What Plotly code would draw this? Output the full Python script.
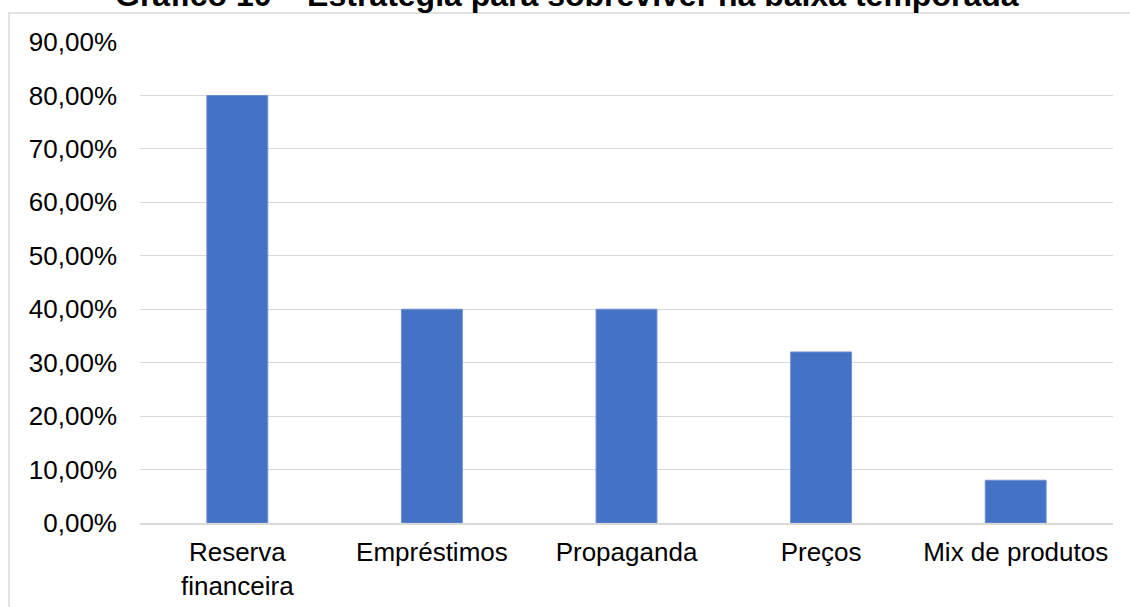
import plotly.graph_objects as go

categories = ["Reserva<br>financeira", "Empréstimos", "Propaganda", "Preços", "Mix de produtos"]
values = [0.80, 0.40, 0.40, 0.32, 0.08]
tick_vals = [0, 0.1, 0.2, 0.3, 0.4, 0.5, 0.6, 0.7, 0.8, 0.9]
tick_text = ["0,00%", "10,00%", "20,00%", "30,00%", "40,00%", "50,00%", "60,00%", "70,00%", "80,00%", "90,00%"]
title_text = "Gráfico 10 – Estratégia para sobreviver na baixa temporada"

FONT = "Liberation Sans, Arial, sans-serif"

fig = go.Figure(
    go.Bar(
        x=categories,
        y=values,
        marker=dict(color="#4472C4", line=dict(color="#6f8fd2", width=1)),
        width=0.313,
    )
)

fig.update_layout(
    width=1130,
    height=607,
    margin=dict(l=140, r=17, t=42, b=84),
    paper_bgcolor="white",
    plot_bgcolor="white",
    showlegend=False,
    font=dict(family=FONT, size=26, color="#000000"),
)

fig.update_yaxes(
    range=[0, 0.9],
    tickvals=tick_vals,
    ticktext=tick_text,
    showgrid=True,
    gridcolor="#d9d9d9",
    gridwidth=1.3,
    zeroline=False,
    showline=False,
    ticklabelstandoff=22,
    automargin=False,
    tickfont=dict(family=FONT, size=26, color="#000000"),
    fixedrange=True,
)
fig.update_xaxes(
    showline=True,
    linecolor="#d9d9d9",
    linewidth=1.5,
    showgrid=False,
    ticks="",
    ticklabelstandoff=5,
    automargin=False,
    tickfont=dict(family=FONT, size=26, color="#000000"),
    tickangle=0,
    fixedrange=True,
)

# outer chart-area border (partly off-canvas, as in the reference)
fig.add_shape(
    type="rect", xref="paper", yref="paper",
    x0=(9 - 140) / 973, x1=1.2, y0=-0.5, y1=1 + (42 - 13) / 481,
    line=dict(color="#d9d9d9", width=1.5), fillcolor="rgba(0,0,0,0)", layer="below",
)

fig.add_annotation(
    text="<b>" + title_text + "</b>",
    xref="paper", yref="paper",
    x=(567 - 140) / 973, y=1 + (42 + 5) / 481,
    xanchor="center", yanchor="middle",
    showarrow=False,
    font=dict(family=FONT, size=32, color="#000000"),
)

fig.write_html("out.html")
